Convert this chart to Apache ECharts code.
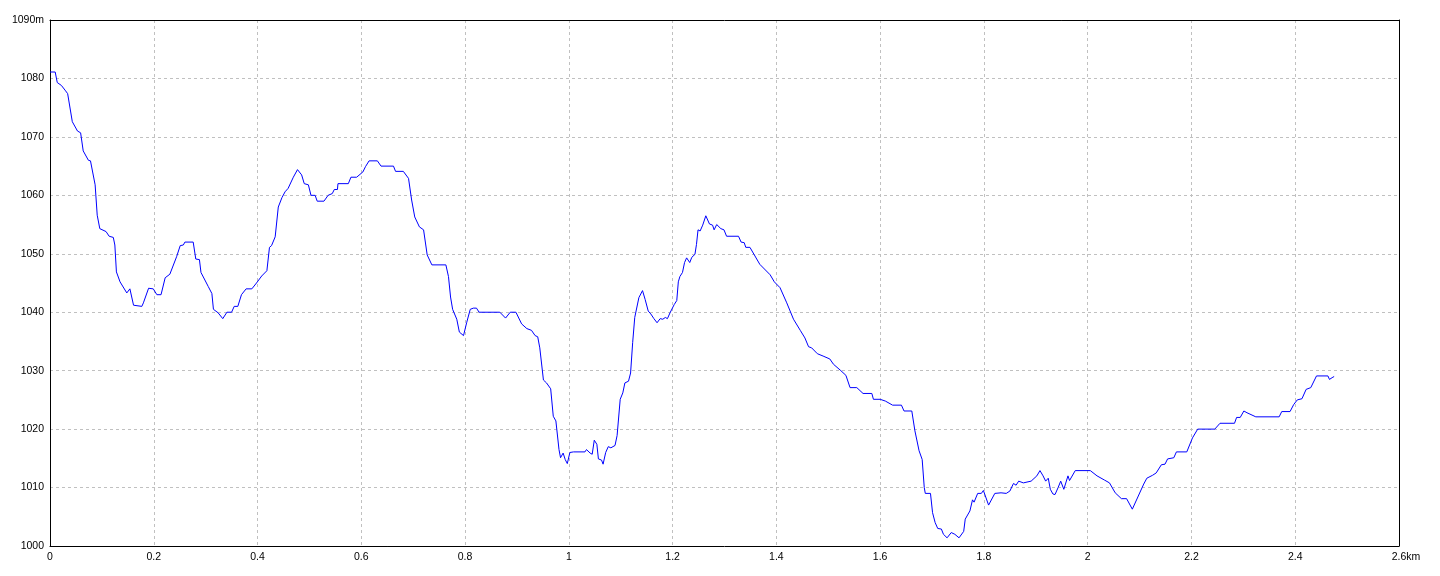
<!DOCTYPE html>
<html>
<head>
<meta charset="utf-8">
<script src="https://cdn.jsdelivr.net/npm/echarts@6/dist/echarts.min.js"></script>
<style>
html,body{margin:0;padding:0;background:#fff;}
#chart{width:1440px;height:576px;}
</style>
</head>
<body>
<div id="chart"></div>
<script>
// Distance along the route (km)
var distanceKm = [
0.000,0.010,0.014,0.022,0.029,0.034,0.043,0.053,0.059,0.064,0.074,0.078,0.087,0.091,0.096,0.108,0.114,0.122,0.125,0.128,
0.135,0.148,0.154,0.161,0.164,0.177,0.180,0.190,0.199,0.206,0.214,0.222,0.231,0.244,0.251,0.257,0.260,0.276,0.281,0.288,
0.291,0.305,0.312,0.315,0.324,0.333,0.341,0.350,0.355,0.362,0.369,0.378,0.389,0.398,0.408,0.418,0.423,0.427,0.434,0.440,
0.447,0.453,0.459,0.469,0.472,0.477,0.485,0.490,0.498,0.503,0.511,0.515,0.528,0.536,0.544,0.548,0.554,0.555,0.575,0.580,
0.591,0.603,0.608,0.615,0.631,0.638,0.662,0.666,0.681,0.691,0.697,0.703,0.712,0.720,0.727,0.736,0.763,0.768,0.772,0.776,
0.784,0.789,0.797,0.803,0.810,0.816,0.822,0.827,0.867,0.878,0.887,0.898,0.909,0.919,0.928,0.935,0.940,0.944,0.951,0.957,
0.965,0.970,0.975,0.981,0.984,0.989,0.993,0.997,1.002,1.009,1.031,1.034,1.041,1.045,1.049,1.054,1.057,1.063,1.066,1.071,
1.076,1.081,1.089,1.093,1.099,1.104,1.108,1.115,1.119,1.123,1.127,1.135,1.142,1.147,1.153,1.158,1.164,1.170,1.176,1.181,
1.186,1.190,1.195,1.203,1.208,1.211,1.214,1.219,1.223,1.227,1.233,1.237,1.243,1.246,1.249,1.253,1.258,1.264,1.271,1.277,
1.280,1.285,1.288,1.293,1.299,1.304,1.327,1.332,1.338,1.341,1.349,1.368,1.388,1.396,1.407,1.420,1.433,1.446,1.455,1.462,
1.468,1.479,1.490,1.503,1.510,1.523,1.534,1.542,1.555,1.567,1.584,1.587,1.600,1.610,1.624,1.641,1.646,1.661,1.667,1.675,
1.681,1.685,1.687,1.697,1.701,1.706,1.711,1.718,1.722,1.729,1.737,1.744,1.752,1.761,1.764,1.773,1.778,1.781,1.788,1.795,
1.799,1.809,1.821,1.833,1.843,1.850,1.857,1.862,1.867,1.876,1.891,1.902,1.908,1.914,1.919,1.924,1.928,1.933,1.937,1.943,
1.948,1.954,1.962,1.965,1.976,2.005,2.018,2.032,2.042,2.053,2.065,2.075,2.086,2.108,2.114,2.125,2.132,2.142,2.149,2.154,
2.166,2.171,2.191,2.202,2.212,2.245,2.255,2.283,2.287,2.294,2.301,2.307,2.324,2.369,2.374,2.390,2.397,2.404,2.413,2.421,
2.430,2.441,2.463,2.466,2.469,2.471,2.475
];
// Elevation (m)
var elevationM = [
1081.1,1081.1,1079.3,1078.8,1078.0,1077.4,1072.6,1071.0,1070.7,1067.6,1066.0,1065.9,1061.8,1056.6,1054.3,1053.8,1053.0,1052.8,1051.5,1046.9,
1045.2,1043.3,1044.0,1041.2,1041.0,1041.0,1041.6,1044.1,1044.0,1043.0,1043.0,1045.9,1046.5,1049.5,1051.4,1051.5,1052.0,1052.0,1049.1,1049.0,
1046.8,1044.4,1043.2,1040.5,1039.9,1038.9,1040.0,1040.0,1041.0,1041.0,1043.0,1044.0,1044.0,1045.0,1046.2,1047.1,1051.1,1051.4,1052.9,1058.0,
1059.6,1060.6,1061.2,1063.1,1063.1,1064.4,1063.5,1062.0,1061.8,1060.0,1060.0,1059.0,1059.0,1060.0,1060.3,1061.0,1061.0,1062.0,1062.0,1063.1,
1063.1,1064.0,1064.9,1065.9,1065.9,1065.0,1065.0,1064.1,1064.1,1062.9,1059.2,1056.3,1054.6,1054.1,1049.8,1048.1,1048.1,1046.1,1042.6,1040.5,
1038.8,1036.6,1036.0,1038.2,1040.5,1040.7,1040.7,1040.0,1040.0,1039.0,1040.0,1040.0,1038.0,1037.2,1036.9,1036.0,1035.8,1033.9,1028.4,1027.9,
1026.9,1022.2,1021.4,1016.5,1015.1,1015.9,1014.8,1014.1,1016.0,1016.1,1016.1,1016.5,1015.9,1015.7,1018.1,1017.4,1014.9,1014.7,1014.0,1016.0,
1017.0,1016.8,1017.2,1018.9,1025.1,1026.2,1027.9,1028.2,1029.6,1034.8,1039.1,1042.5,1043.7,1042.2,1040.2,1039.7,1038.9,1038.2,1038.9,1038.8,
1039.1,1038.9,1039.9,1041.3,1042.0,1045.2,1046.1,1046.8,1048.5,1049.3,1048.5,1049.4,1049.9,1051.6,1054.1,1053.9,1054.9,1056.5,1055.1,1054.9,
1054.1,1055.0,1054.9,1054.3,1054.1,1053.0,1053.0,1052.0,1051.9,1051.1,1051.1,1048.2,1046.4,1045.2,1044.2,1041.6,1038.8,1036.9,1035.6,1034.1,
1033.9,1032.9,1032.5,1032.0,1031.1,1030.1,1029.2,1027.1,1027.1,1026.1,1026.1,1025.1,1025.1,1024.8,1024.1,1024.1,1023.1,1023.1,1019.7,1016.3,
1014.8,1010.0,1009.0,1009.0,1005.7,1004.0,1003.0,1002.9,1002.0,1001.4,1002.3,1002.0,1001.4,1002.5,1004.6,1006.0,1007.9,1007.5,1009.0,1009.0,
1009.5,1007.0,1009.0,1009.1,1009.0,1009.4,1010.7,1010.4,1011.1,1010.8,1011.1,1012.0,1012.9,1012.0,1011.1,1011.6,1009.7,1008.9,1008.8,1010.0,
1011.1,1009.7,1012.0,1011.2,1012.9,1012.9,1012.0,1011.3,1010.8,1009.1,1008.1,1008.1,1006.3,1010.6,1011.6,1012.1,1012.5,1013.9,1014.0,1014.9,
1015.1,1016.1,1016.1,1018.5,1020.0,1020.0,1021.0,1021.0,1022.0,1022.0,1023.1,1022.8,1022.1,1022.1,1023.0,1023.0,1024.2,1025.0,1025.2,1026.8,
1027.1,1029.1,1029.1,1028.5,1028.2,1028.8,1029.0
];
// Axis ranges / ticks
var xMin = 0, xMax = 2.6, xStep = 0.2;
var yMin = 1000, yMax = 1090, yStep = 10;

var seriesData = distanceKm.map(function (d, i) { return [d, elevationM[i]]; });

var fontFam = "'Liberation Sans',Arial,sans-serif";
var fs = 10.5;
var chart = echarts.init(document.getElementById('chart'), null, {renderer: 'canvas'});
chart.setOption({
  animation: false,
  backgroundColor: '#ffffff',
  grid: {left: 50, right: 41, top: 20, bottom: 30, show: false},
  xAxis: [{
    type: 'value', min: xMin, max: xMax, interval: xStep,
    axisLine: {show: true, onZero: false, lineStyle: {color: '#000', width: 1}},
    axisTick: {show: false},
    splitLine: {show: true, showMinLine: false, showMaxLine: false, lineStyle: {color: '#c0c0c0', type: [3, 3], width: 1}},
    axisLabel: {
      color: '#000', fontFamily: fontFam, fontSize: fs, margin: 6,
      formatter: function (v) {
        var r = Math.round(v * 10) / 10;
        if (Math.abs(r - xMax) < 1e-6) return '{k|' + r + 'km}';
        return String(r);
      },
      rich: {k: {color: '#000', fontFamily: fontFam, fontSize: fs, padding: [0, 0, 0, 14]}}
    }
  }, {
    type: 'value', position: 'top', min: xMin, max: xMax, interval: xStep,
    axisLine: {show: true, onZero: false, lineStyle: {color: '#000', width: 1}},
    axisTick: {show: false}, axisLabel: {show: false}, splitLine: {show: false}
  }],
  yAxis: [{
    type: 'value', min: yMin, max: yMax, interval: yStep,
    axisLine: {show: true, onZero: false, lineStyle: {color: '#000', width: 1}},
    axisTick: {show: false},
    splitLine: {show: true, showMinLine: false, showMaxLine: false, lineStyle: {color: '#c0c0c0', type: [3, 3], width: 1}},
    axisLabel: {
      color: '#000', fontFamily: fontFam, fontSize: fs, margin: 6,
      formatter: function (v) { return v === yMax ? v + 'm' : String(v); }
    }
  }, {
    type: 'value', position: 'right', min: yMin, max: yMax, interval: yStep,
    axisLine: {show: true, onZero: false, lineStyle: {color: '#000', width: 1}},
    axisTick: {show: false}, axisLabel: {show: false}, splitLine: {show: false}
  }],
  series: [{
    type: 'line', data: seriesData, showSymbol: false, symbol: 'none',
    xAxisIndex: 0, yAxisIndex: 0,
    lineStyle: {color: '#0000ff', width: 1}, itemStyle: {color: '#0000ff'}
  }]
});
</script>
</body>
</html>
